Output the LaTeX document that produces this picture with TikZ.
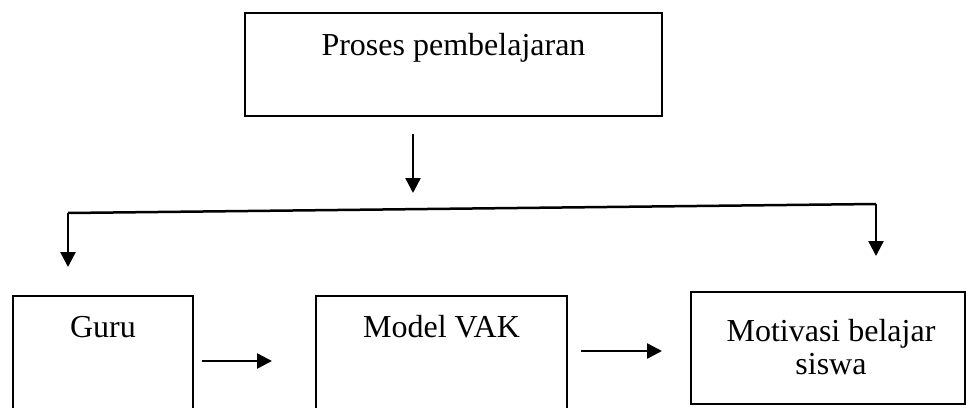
\documentclass[tikz,border=0pt]{standalone}
\usepackage{fontspec}
\setmainfont{Liberation Serif}
\usetikzlibrary{arrows.meta,calc}
\tikzset{
  box/.style={draw=black, line width=2pt, inner sep=0pt, outer sep=0pt, anchor=north west},
  topbox/.style={box, line width=2.8pt},
  lbl/.style={inner sep=0pt, anchor=base, font=\fontsize{32}{36}\selectfont},
  conn/.style={line width=2.5pt},
  arr/.style={line width=2.5pt, -{Triangle[length=15pt,width=15pt]}},
}
\begin{document}
\begin{tikzpicture}[x=1pt,y=-1pt]
\useasboundingbox (0,0) rectangle (966,407);
\clip (0,0) rectangle (966,407);
% boxes
\node[topbox, minimum width=417pt, minimum height=103pt] (top) at (245,13) {};
\node[box, minimum width=180pt, minimum height=130pt] (guru) at (13,296) {};
\node[box, minimum width=251pt, minimum height=130pt] (model) at (316,296) {};
\node[box, minimum width=274pt, minimum height=112pt] (motiv) at (691,292) {};
% texts
\node[lbl] (topT) at (453.5,55) {Proses pembelajaran};
\node[lbl] (guruT) at (103,337) {Guru};
\node[lbl] (modelT) at (441.5,337) {Model VAK};
\node[lbl] (motT1) at (831,341) {Motivasi belajar};
\node[lbl] (motT2) at (831,374) {siswa};
% connector points
\coordinate (a1s) at (413,134);
\coordinate (a1e) at (413,193);
\coordinate (bl) at (68,213);
\coordinate (br) at (876,204);
\coordinate (ble) at (68,267);
\coordinate (bre) at (876,256);
% connectors
\draw[arr] (a1s) -- (a1e);
\draw[conn] (bl) -- (br);
\draw[arr] (bl) -- (ble);
\draw[arr] (br) -- (bre);
\draw[arr] ($(guru.north east)+(9,65)$) -- ($(model.north west)+(-44,65)$);
\draw[arr] ($(model.north east)+(14,55)$) -- ($(motiv.north west)+(-29,59)$);
\end{tikzpicture}
\end{document}
